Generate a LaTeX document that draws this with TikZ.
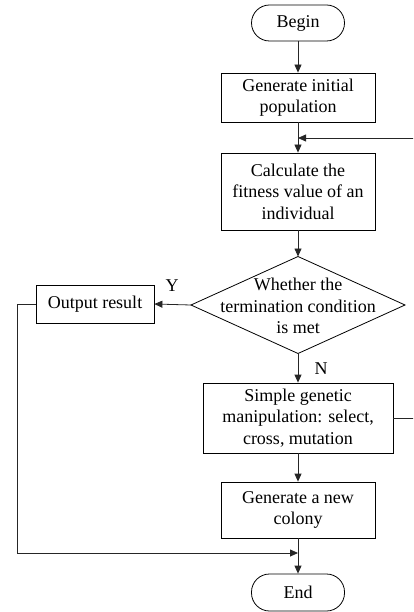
\documentclass[tikz,border=0pt]{standalone}
\usepackage{fontspec}
\setmainfont{Liberation Serif}
\usetikzlibrary{arrows.meta}
\begin{document}
\begin{tikzpicture}[x=1pt,y=-1pt,
  every node/.style={font=\fontsize{18}{21.5}\selectfont, align=center, inner sep=0pt},
  box/.style={draw, line width=0.8pt, rectangle},
  term/.style={draw, line width=0.8pt, rectangle, rounded corners=18pt},
  lbl/.style={font=\fontsize{18}{21.5}\selectfont},
  arr/.style={draw=black!85, line width=0.8pt, -{Triangle[length=8pt,width=7pt]}},
  ln/.style={draw=black!85, line width=0.8pt}]
\useasboundingbox (0,0) rectangle (413,612);
\begin{scope}
\clip (0,0) rectangle (413,612);
\node[term, minimum width=93pt, minimum height=36pt] (begin) at (298,23) {Begin};
\node[box, minimum width=154pt, minimum height=49pt] (init) at (298,97.5) {Generate initial\\population};
\node[box, minimum width=154pt, minimum height=77pt] (calc) at (298,191.5) {Calculate the\\fitness value of an\\individual};
\coordinate (dtop) at (298,256.5);
\coordinate (dleft) at (191,305);
\coordinate (dright) at (405,305);
\coordinate (dbot) at (298,353.5);
\draw[line width=0.8pt] (dtop) -- (dright) -- (dbot) -- (dleft) -- cycle;
\node (dtext) at (298,306) {Whether the\\termination condition\\is met};
\node[box, minimum width=118pt, minimum height=38pt] (output) at (95,304) {Output result};
\node[box, minimum width=190pt, minimum height=70pt] (simple) at (298,418) {Simple genetic\\manipulation: select,\\cross, mutation};
\node[box, minimum width=154pt, minimum height=56pt] (newcol) at (298,510) {Generate a new\\colony};
\node[term, minimum width=93pt, minimum height=37pt] (end) at (298,592.5) {End};
\node[lbl] (ylab) at (172,285.5) {Y};
\node[lbl] (nlab) at (321,368.5) {N};
\coordinate (fb) at (298,138);
\coordinate (merge) at (298,553);
\coordinate (lcorner) at (17,304);
\coordinate (rcorner) at (425,418);
\draw[arr] (begin.south) -- (init.north);
\draw[arr] (init.south) -- (calc.north);
\draw[arr] (calc.south) -- (dtop);
\draw[arr] (dleft) -- (output.east);
\draw[arr] (dbot) -- (simple.north);
\draw[arr] (simple.south) -- (newcol.north);
\draw[arr] (newcol.south) -- (end.north);
\draw[arr] (output.west) -- (lcorner) |- (merge);
\draw[arr] (simple.east) -- (rcorner) |- (fb);
\end{scope}
\end{tikzpicture}
\end{document}
